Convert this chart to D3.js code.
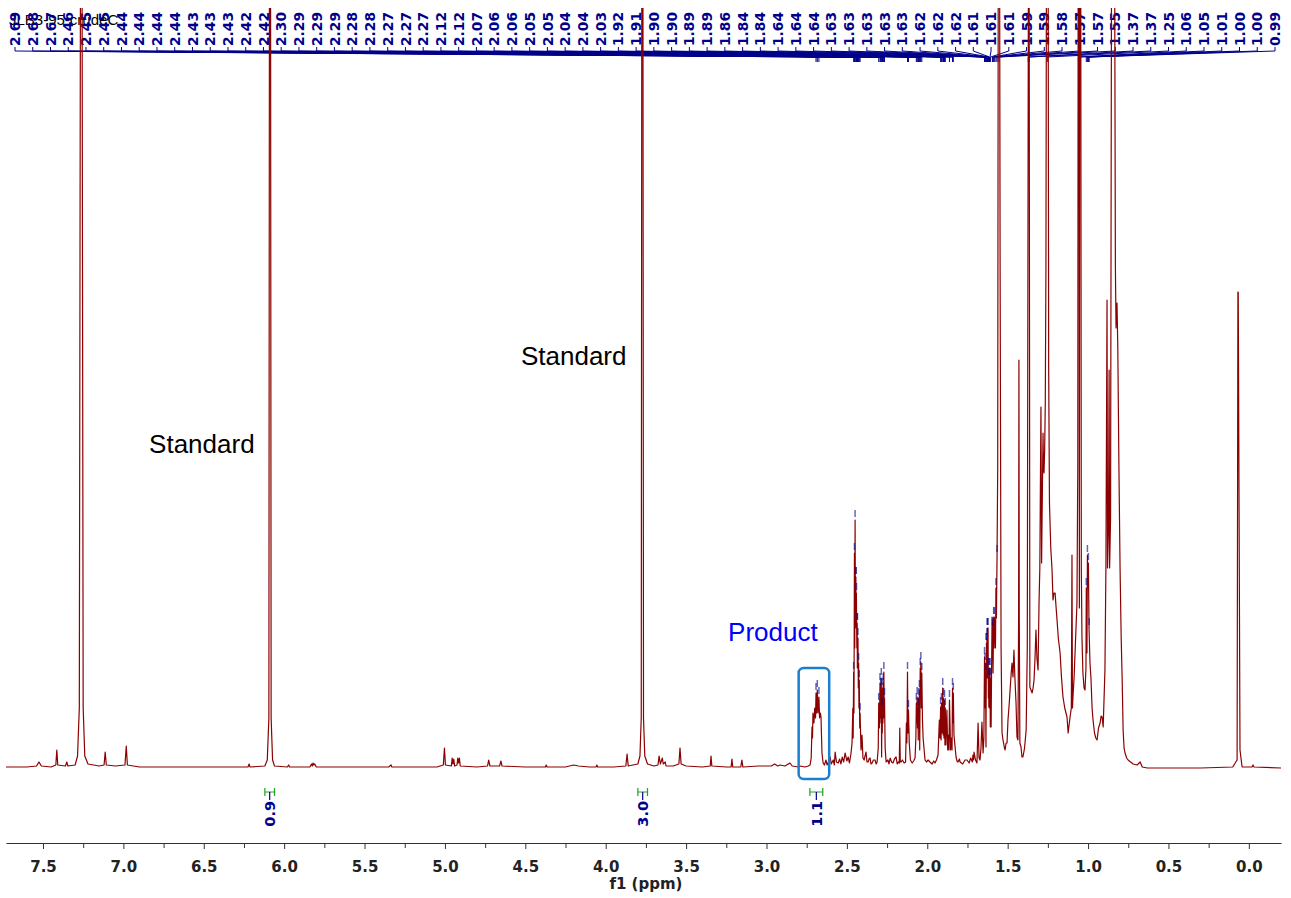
<!DOCTYPE html>
<html><head><meta charset="utf-8">
<script src="https://cdn.jsdelivr.net/npm/d3@7"></script>
<style>body{margin:0;background:#fff}svg{display:block}</style>
</head><body>
<script>
// ---------- DATA ----------
const title = "JLB3-95-crudeC";
const ppmDomain = [7.73, -0.2];
const intensityDomain = [0, 760];
const axisTicks = [7.5,7.0,6.5,6.0,5.5,5.0,4.5,4.0,3.5,3.0,2.5,2.0,1.5,1.0,0.5,0.0];
const minorTicks = [7.25,6.75,6.25,5.75,5.25,4.75,4.25,3.75,3.25,2.75,2.25,1.75,1.25,0.75,0.25];
// spectrum vertices: [chemical shift (ppm), intensity (a.u.)]
const spectrum = [
[7.73,1],[7.60,1],[7.54,2],[7.525,6],[7.51,2],[7.45,1],[7.42,3],[7.414,18],[7.408,3],[7.36,2],[7.352,6],[7.345,2],
[7.30,3],[7.285,12],[7.274,60],[7.266,900],[7.258,900],[7.250,60],[7.240,12],[7.22,4],[7.15,2],[7.12,3],[7.113,16],[7.106,3],
[7.05,2],[6.99,3],[6.982,22],[6.975,3],[6.90,1],[6.60,1],[6.30,1],[6.225,1],[6.218,4],[6.212,1],[6.12,2],[6.105,8],[6.095,50],
[6.091,900],[6.085,900],[6.081,50],[6.072,8],[6.06,2],[5.98,1],[5.972,3],[5.966,1],[5.84,1],[5.83,4],[5.825,2],[5.82,5],[5.815,3],
[5.81,4],[5.80,1],[5.60,1],[5.35,1],[5.335,3],[5.33,1],[5.05,1],[5.01,3],[5.003,20],[4.997,3],[4.96,2],[4.955,10],[4.95,4],
[4.945,9],[4.94,2],[4.925,3],[4.92,10],[4.915,5],[4.91,10],[4.905,2],[4.80,1],[4.735,2],[4.728,8],[4.72,2],[4.66,2],[4.652,7],
[4.645,2],[4.50,1],[4.375,1],[4.37,3],[4.365,1],[4.25,1],[4.20,3],[4.17,2],[4.10,1],[4.06,1],[4.055,3],[4.05,1],[3.95,1],
[3.875,2],[3.867,14],[3.86,2],[3.80,4],[3.787,12],[3.779,50],[3.775,900],[3.769,900],[3.765,50],[3.757,12],[3.74,4],[3.70,2],
[3.675,3],[3.668,12],[3.66,4],[3.648,10],[3.642,4],[3.63,6],[3.625,2],[3.58,2],[3.545,4],[3.538,20],[3.531,4],[3.50,2],[3.40,1],
[3.35,2],[3.345,12],[3.34,2],[3.25,1],[3.22,1],[3.215,9],[3.21,1],[3.16,1],[3.153,8],[3.147,1],[3.05,2],[2.97,2],[2.95,4],[2.93,2],
[2.916,3],[2.885,2],[2.854,5],[2.84,2],[2.80,1],[2.791,2],[2.760,1],[2.740,2],[2.729,3],
[2.722,10],[2.717,41],[2.714,30],[2.711,55],[2.705,45],[2.700,60],[2.695,50],[2.692,75],[2.689,55],[2.684,78],[2.680,55],
[2.677,60],[2.674,71],[2.670,50],[2.665,55],[2.661,51],[2.655,15],[2.648,5],[2.640,3],[2.630,8],[2.623,3],[2.615,6],[2.604,11],
[2.597,4],[2.585,8],[2.578,3],[2.573,16],[2.565,6],[2.554,5],[2.545,9],[2.537,4],[2.529,11],[2.520,6],[2.511,15],[2.500,7],
[2.492,11],[2.484,5],[2.475,14],[2.468,25],[2.463,60],[2.461,30],[2.458,96],[2.456,55],[2.453,215],[2.451,120],[2.449,248],
[2.447,150],[2.444,191],[2.443,140],[2.441,175],[2.438,120],[2.436,145],[2.435,100],[2.431,130],[2.429,80],[2.427,105],
[2.425,60],[2.423,88],[2.420,40],[2.418,55],[2.414,30],[2.412,18],[2.408,25],[2.406,33],[2.400,10],[2.393,8],[2.387,12],
[2.381,16],[2.375,6],[2.368,6],[2.362,9],[2.356,10],[2.350,4],[2.343,5],[2.335,8],[2.325,8],[2.318,4],[2.312,6],[2.305,20],
[2.302,65],[2.298,40],[2.294,85],[2.292,50],[2.290,80],[2.288,45],[2.286,90],[2.284,11],[2.282,60],[2.280,35],[2.278,80],
[2.276,45],[2.274,85],[2.272,50],[2.270,96],[2.268,55],[2.266,70],[2.262,20],[2.256,6],[2.245,8],[2.238,4],[2.231,10],
[2.222,6],[2.213,5],[2.204,9],[2.194,11],[2.187,4],[2.181,6],[2.174,5],[2.171,40],[2.168,6],[2.163,6],[2.155,8],[2.144,5],
[2.135,6],[2.130,45],[2.127,25],[2.123,96],[2.120,35],[2.117,58],[2.112,25],[2.105,8],[2.094,5],[2.085,7],[2.076,10],
[2.071,30],[2.068,65],[2.066,45],[2.063,71],[2.061,40],[2.058,60],[2.056,28],[2.054,70],[2.052,50],[2.049,78],[2.047,18],
[2.044,100],[2.042,70],[2.040,106],[2.037,60],[2.034,95],[2.030,48],[2.026,30],[2.014,8],[2.005,6],[1.995,8],[1.983,6],
[1.970,4],[1.960,7],[1.952,5],[1.943,8],[1.933,13],[1.925,48],[1.921,30],[1.917,61],[1.914,28],[1.912,65],[1.908,35],
[1.904,80],[1.901,33],[1.899,70],[1.896,30],[1.893,68],[1.890,23],[1.888,60],[1.884,23],[1.878,58],[1.873,18],[1.868,33],
[1.865,18],[1.862,68],[1.855,18],[1.850,30],[1.846,18],[1.843,80],[1.840,45],[1.838,75],[1.834,33],[1.821,11],[1.815,7],
[1.809,6],[1.800,9],[1.796,6],[1.780,4],[1.765,8],[1.753,8],[1.740,5],[1.730,10],[1.720,6],[1.716,13],[1.712,8],[1.709,16],
[1.700,8],[1.691,5],[1.684,45],[1.678,10],[1.672,8],[1.666,20],[1.660,46],[1.653,15],[1.648,30],[1.644,111],[1.642,70],
[1.641,105],[1.639,60],[1.637,95],[1.635,21],[1.634,60],[1.632,125],[1.630,90],[1.629,130],[1.627,100],[1.626,140],[1.624,90],
[1.622,140],[1.620,70],[1.619,100],[1.617,61],[1.616,90],[1.614,60],[1.613,100],[1.611,70],[1.610,100],[1.608,41],[1.606,90],
[1.603,41],[1.600,100],[1.597,151],[1.594,140],[1.591,95],[1.587,151],[1.585,120],[1.583,151],[1.579,138],[1.576,120],
[1.573,180],[1.570,150],[1.566,213],[1.562,300],[1.558,900],[1.551,900],[1.547,500],[1.541,120],[1.535,35],[1.529,28],
[1.520,20],[1.516,18],[1.510,25],[1.504,25],[1.498,48],[1.490,65],[1.485,78],[1.478,95],[1.473,105],[1.467,91],[1.461,118],
[1.455,90],[1.448,65],[1.442,31],[1.436,28],[1.432,150],[1.430,408],[1.428,150],[1.424,25],[1.417,21],[1.411,11],[1.405,11],
[1.395,20],[1.385,38],[1.378,120],[1.370,900],[1.367,900],[1.362,81],[1.355,78],[1.348,75],[1.342,80],[1.336,88],[1.330,110],
[1.324,138],[1.318,110],[1.311,98],[1.305,165],[1.300,200],[1.293,361],[1.289,205],[1.286,250],[1.280,335],[1.277,300],
[1.274,295],[1.270,318],[1.266,365],[1.262,500],[1.258,900],[1.249,900],[1.245,400],[1.240,265],[1.232,220],[1.224,198],
[1.218,168],[1.212,175],[1.205,175],[1.199,161],[1.193,148],[1.185,130],[1.174,115],[1.165,90],[1.156,71],[1.145,60],
[1.131,51],[1.124,35],[1.112,51],[1.104,60],[1.100,213],[1.097,60],[1.094,71],[1.087,90],[1.081,115],[1.075,140],[1.069,165],
[1.064,300],[1.061,900],[1.056,900],[1.054,160],[1.052,900],[1.046,900],[1.042,200],[1.038,131],[1.032,95],[1.025,80],
[1.019,78],[1.013,100],[1.011,180],[1.007,115],[1.004,213],[1.001,180],[0.998,205],[0.994,140],[0.988,105],[0.982,90],
[0.975,60],[0.969,48],[0.960,35],[0.952,30],[0.944,28],[0.935,40],[0.925,45],[0.919,52],[0.913,51],[0.906,41],[0.895,98],
[0.889,200],[0.882,468],[0.879,200],[0.873,240],[0.869,398],[0.866,200],[0.860,250],[0.853,900],[0.836,900],[0.830,500],
[0.826,440],[0.820,465],[0.815,420],[0.808,300],[0.801,200],[0.794,130],[0.788,90],[0.782,38],[0.776,20],[0.770,15],
[0.760,10],[0.751,8],[0.720,4],[0.695,3],[0.676,6],[0.663,1],[0.632,0],[0.30,0],[0.10,1],[0.085,5],[0.073,8],[0.068,476],
[0.066,476],[0.055,18],[0.042,1],[-0.020,1],[-0.026,3],[-0.032,1],[-0.20,0]
];
// picked peaks (ppm); labels are shown with two decimals
const peakShifts = [
2.692,2.684,2.674,2.458,2.453,2.449,2.444,2.442,2.440,2.436,2.434,2.431,2.427,2.423,2.418,
2.302,2.294,2.290,2.286,2.282,2.278,2.274,2.270,2.266,
2.123,2.117,2.068,2.063,2.058,2.054,2.049,2.044,2.040,2.034,
1.917,1.912,1.904,1.899,1.893,1.888,1.862,1.843,1.838,
1.644,1.641,1.637,1.634,1.632,1.629,1.627,1.626,1.622,1.619,1.616,1.613,1.610,1.606,1.594,1.587,1.583,1.573,1.566,1.554,
1.372,1.366,1.254,1.060,1.051,1.011,1.004,0.998,0.993
];
// integrals: [from ppm, to ppm, value]
const integralFrom = [6.12, 3.80, 2.73];
const integralTo   = [6.06, 3.74, 2.65];
const integralValue = ["0.9", "3.0", "1.1"];
// annotations: text placed at (ppm, intensity)
const annoText = ["Standard", "Standard", "Product"];
const annoPpm = [6.84, 4.527, 3.239];
const annoInt = [315, 403, 127];
const annoColor = ["#000000", "#000000", "#0000ff"];
// product highlight box (ppm range, intensity range)
const productBox = [2.80, 2.61, 100, -11];

// ---------- DRAW ----------
const W = 1291, H = 898;
const svg = d3.select("body").append("svg").attr("width", W).attr("height", H);
const x = d3.scaleLinear().domain(ppmDomain).range([6, 1281]);
const y = d3.scaleLinear().domain(intensityDomain).range([768, 8]);
const labelX = d3.scalePoint().domain(d3.range(peakShifts.length)).range([15, 1275]);
const navy = "#00008b";
const font = "'DejaVu Sans', Verdana, sans-serif";

// title
svg.append("text").attr("x", 9).attr("y", 25).attr("font-family", "'Liberation Sans', Arial, sans-serif")
  .attr("font-size", 15).attr("fill", "#000").text(title);

// peak labels + connectors
const gl = svg.append("g");
peakShifts.forEach((p, i) => {
  const lx = labelX(i), px = x(p);
  gl.append("text").attr("transform", `translate(${lx},46) rotate(-90)`).attr("dy", "0.37em")
    .attr("font-family", font).attr("font-weight", "bold").attr("font-size", 13.8).attr("fill", navy)
    .text(p.toFixed(2));
  gl.append("path").attr("d", `M${lx},47V51L${px},57V62`).attr("fill", "none")
    .attr("stroke", navy).attr("stroke-width", 1);
});

// spectrum
svg.append("clipPath").attr("id", "clip").append("rect").attr("x", 6).attr("y", 8).attr("width", 1275).attr("height", 835);
const line = d3.line().x(d => x(d[0])).y(d => y(d[1]));
svg.append("path").datum(spectrum).attr("clip-path", "url(#clip)").attr("d", line)
  .attr("fill", "none").attr("stroke", "#8b0000").attr("stroke-width", 1.2).attr("stroke-linejoin", "round");

// peak pick markers above peak tops
peakShifts.forEach(p => {
  const near = spectrum.filter(d => Math.abs(d[0] - p) <= 0.0025);
  if (!near.length) return;
  const top = y(d3.max(near, d => d[1]));
  if (top - 10 < 64) return;
  svg.append("line").attr("x1", x(p)).attr("x2", x(p)).attr("y1", top - 10).attr("y2", top - 3)
    .attr("stroke", navy).attr("stroke-opacity", 0.6).attr("stroke-width", 1.5);
});

// annotations
annoText.forEach((t, i) => {
  svg.append("text").attr("x", x(annoPpm[i])).attr("y", y(annoInt[i]))
    .attr("font-family", "'Liberation Sans', Arial, sans-serif").attr("font-size", 26)
    .attr("fill", annoColor[i]).text(t);
});
svg.append("rect").attr("x", x(productBox[0])).attr("y", y(productBox[2]))
  .attr("width", x(productBox[1]) - x(productBox[0])).attr("height", y(productBox[3]) - y(productBox[2]))
  .attr("rx", 5).attr("fill", "none").attr("stroke", "#1a7fd0").attr("stroke-width", 2.5);

// integrals
integralValue.forEach((v, i) => {
  const x1 = x(integralFrom[i]), x2 = x(integralTo[i]), cx = (x1 + x2) / 2;
  svg.append("path").attr("d", `M${x1},788V796M${x1},792H${x2}M${x2},788V796`)
    .attr("stroke", "#22a022").attr("stroke-width", 1.2).attr("fill", "none");
  svg.append("line").attr("x1", cx).attr("x2", cx).attr("y1", 792).attr("y2", 800)
    .attr("stroke", navy).attr("stroke-width", 1.2);
  svg.append("text").attr("transform", `translate(${cx},801) rotate(-90)`).attr("dy", "0.37em")
    .attr("text-anchor", "end").attr("font-family", font).attr("font-weight", "bold")
    .attr("font-size", 14.5).attr("fill", navy).text(v);
});

// x axis
const ga = svg.append("g").attr("transform", "translate(0,843)");
ga.call(d3.axisBottom(x).tickValues(axisTicks).tickFormat(d3.format(".1f")).tickSize(6).tickSizeOuter(0).tickPadding(12));
ga.append("g").call(d3.axisBottom(x).tickValues(minorTicks).tickFormat("").tickSize(5).tickSizeOuter(0))
  .select(".domain").remove();
ga.selectAll("path,line").attr("stroke", "#333");
ga.selectAll("text").attr("font-family", font).attr("font-weight", "bold").attr("font-size", 15).attr("fill", "#222");
svg.append("text").attr("x", x(3.75)).attr("y", 889).attr("text-anchor", "middle")
  .attr("font-family", font).attr("font-weight", "bold").attr("font-size", 15).attr("fill", "#222").text("f1 (ppm)");
</script>
</body></html>
